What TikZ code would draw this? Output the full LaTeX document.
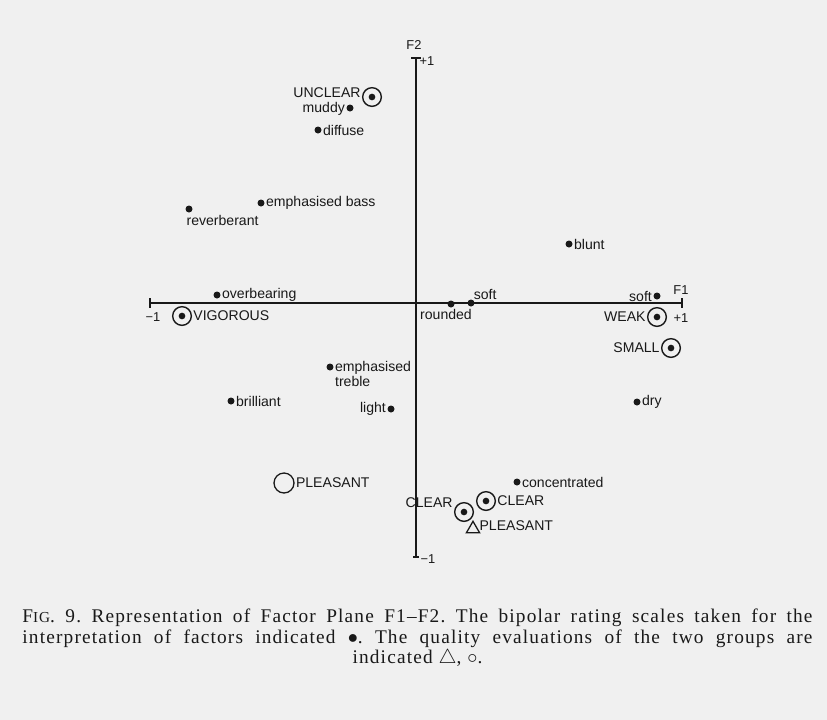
\documentclass[tikz,border=0pt]{standalone}
\usepackage{fontspec}
\setmainfont{Liberation Serif}
\setsansfont{Liberation Sans}
\newfontfamily\capfont[LetterSpace=6]{Liberation Serif}
\usetikzlibrary{positioning,calc,shapes.geometric}
\definecolor{paper}{RGB}{240,240,240}
\definecolor{ink}{RGB}{25,25,25}

\begin{document}
\begin{tikzpicture}[x=0.03cm, y=-0.03cm, ink]
  \tikzstyle{dot}=[circle, fill, inner sep=0pt, minimum size=0.21cm]
  \tikzstyle{ring}=[circle, draw, line width=1.2pt, inner sep=0pt, minimum size=0.56cm,
    path picture={\fill (path picture bounding box.center) circle (0.1cm);}]
  \tikzstyle{open}=[circle, draw, line width=1.1pt, inner sep=0pt, minimum size=0.6cm]
  \tikzstyle{tri}=[regular polygon, regular polygon sides=3, draw, line width=1.1pt, inner sep=0pt, minimum size=0.46cm]
  \tikzstyle{every label}=[font=\sffamily\fontsize{12}{13}\selectfont, inner sep=1pt]
  \tikzstyle{axlab}=[font=\sffamily\fontsize{11}{12}\selectfont, inner sep=0pt]

  \fill[paper] (0,0) rectangle (827,720);
  \useasboundingbox (0,0) rectangle (827,720);

  % axes
  \coordinate (f2top) at (416,58);
  \coordinate (f2bot) at (416,557);
  \coordinate (f1left) at (150,303);
  \coordinate (f1right) at (682,303);
  \draw[line width=1pt] (f2top) -- (f2bot);
  \draw[line width=1pt] (f1left) -- (f1right);
  \draw[line width=1pt] ($(f2top)+(-5,0)$) -- ($(f2top)+(5,0)$);
  \draw[line width=1pt] ($(f2bot)+(-3,0)$) -- ($(f2bot)+(3,0)$);
  \draw[line width=1pt] ($(f1left)+(0,-5)$) -- ($(f1left)+(0,5)$);
  \draw[line width=1pt] ($(f1right)+(0,-5)$) -- ($(f1right)+(0,5)$);
  \node[axlab] (f2) at (414,45) {F2};
  \node[axlab] (f2p) at (427,61) {+1};
  \node[axlab] (f2m) at (428,559) {−1};
  \node[axlab] (f1) at (681,290) {F1};
  \node[axlab] (f1p) at (681,318) {+1};
  \node[axlab] (f1m) at (153,317) {−1};

  % rating scales
  \node[ring, label={[yshift=0.12cm]left:UNCLEAR}] (unclear) at (372,97) {};
  \node[dot, label={[yshift=-0.03cm]left:muddy}] (muddy) at (350,108) {};
  \node[dot, label=right:diffuse] (diffuse) at (318,130) {};
  \node[dot, label=right:emphasised bass] (bass) at (261,203) {};
  \node[dot, label={[anchor=north west, inner sep=0pt, yshift=-0.1cm]below left:reverberant}] (reverb) at (189,209) {};
  \node[dot, label=right:blunt] (blunt) at (569,244) {};
  \node[dot, label=right:overbearing] (overb) at (217,295) {};
  \node[ring, label=right:VIGOROUS] (vigor) at (182,316) {};
  \node[dot, label={[xshift=-0.15cm]below:rounded}] (rounded) at (451,304) {};
  \node[dot, label={[inner sep=0pt]above right:soft}] (softa) at (471,303) {};
  \node[dot, label=left:soft] (softb) at (657,296) {};
  \node[ring, label=left:WEAK] (weak) at (657,317) {};
  \node[ring, label=left:SMALL] (small) at (671,348) {};
  \node[dot, label={[anchor=west, align=left, yshift=-0.2cm]right:emphasised\\treble}] (treble) at (330,367) {};
  \node[dot, label=right:brilliant] (brill) at (231,401) {};
  \node[dot, label=left:light] (light) at (391,409) {};
  \node[dot, label=right:dry] (dry) at (637,402) {};
  \node[dot, label=right:concentrated] (conc) at (517,482) {};
  \node[ring, label=right:CLEAR] (cleara) at (486,501) {};
  \node[ring, label={[yshift=0.27cm]left:CLEAR}] (clearb) at (464,512) {};

  % quality evaluations
  \node[open, label=right:PLEASANT] (pleasa) at (284,483) {};
  \node[tri, label={[yshift=0.1cm]right:PLEASANT}] (pleasb) at (473,529) {};

  % caption
  \node[anchor=north, text width=23.7cm, align=justify, font=\capfont\fontsize{16.5}{17.5}\selectfont\frenchspacing, inner sep=0pt] (caption) at (417.5,609)
    {{\parfillskip=0pt F{\fontsize{13}{13}\selectfont IG}. 9. Representation of Factor Plane F1–F2. The bipolar rating scales taken for the\linebreak
    interpretation of factors indicated $\bullet$. The quality evaluations of the two groups are\par}
    \centering indicated $\triangle$, $\circ$.\par};
\end{tikzpicture}
\end{document}
